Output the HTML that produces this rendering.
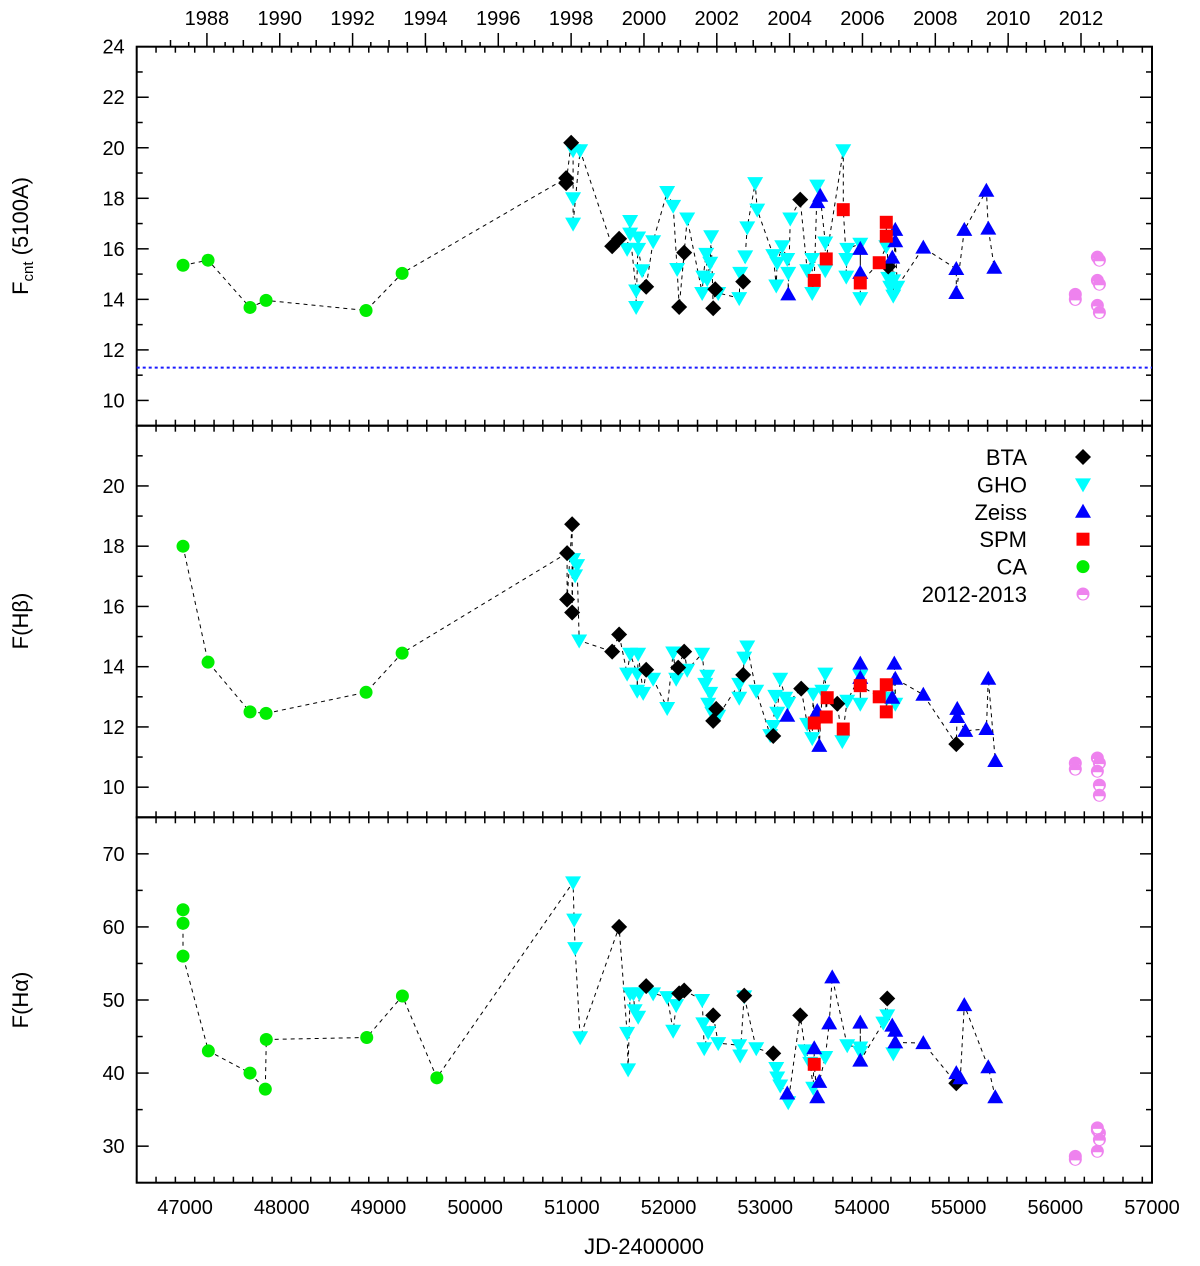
<!DOCTYPE html>
<html><head><meta charset="utf-8"><style>
html,body{margin:0;padding:0;background:#fff;}
svg{display:block;font-family:"Liberation Sans",Arial,sans-serif;}
</style></head><body>
<svg id="chart" width="1200" height="1266" viewBox="0 0 1200 1266" xmlns="http://www.w3.org/2000/svg">
<g id="axes"></g>
<g id="lines"></g>
<g id="marks"></g>
<g id="legend"></g>
</svg>
<script>
// ---- X axis ticks / labels ----
const xTicks = [47000,48000,49000,50000,51000,52000,53000,54000,55000,56000,57000];
const yearTicks = [1988,1990,1992,1994,1996,1998,2000,2002,2004,2006,2008,2010,2012];
const p1Ticks = [10,12,14,16,18,20,22,24];
const p2Ticks = [10,12,14,16,18,20];
const p3Ticks = [30,40,50,60,70];
const hostLevel = [11.3];

// ---- Panel 1: continuum ----
const p1CA_jd = [46979,47238,47672,47838,48872,49245];
const p1CA_v = [15.35,15.55,13.68,13.96,13.56,15.03];
const p1BTA_jd = [50941,50941,50993,51417,51489,51769,52110,52162,52462,52483,52772,53362,54272];
const p1BTA_v = [18.8,18.6,20.2,16.1,16.4,14.5,13.7,15.85,13.65,14.4,14.7,17.95,15.3];
const p1GHO_jd = [51013,51086,51013,51013,51603,51603,51686,51572,51686,51841,51727,51665,51665,51986,52048,52193,52089,52441,52390,52431,52359,52400,52348,52514,52896,52917,52814,52793,52741,52731,53083,53176,53124,53238,53114,53259,53228,53538,53621,53486,53434,53621,53486,53807,53848,53838,53838,53983,53983,54252,54272,54324,54324,54366,54293];
const p1GHO_v = [19.9,19.9,18.0,17.0,17.1,16.6,16.45,16.0,16.0,16.3,15.15,14.35,13.7,18.25,17.7,17.2,15.2,16.5,15.8,15.45,14.9,14.8,14.25,14.25,18.6,17.55,16.85,15.7,15.05,14.05,15.75,16.1,15.45,15.05,14.55,17.2,15.6,18.5,16.25,15.6,15.15,15.15,14.25,19.9,16.0,15.6,14.9,16.2,14.05,16.1,14.85,14.75,14.15,14.5,14.5];
const p1Zeiss_jd = [53569,53538,53238,53983,53983,54345,54345,54314,54635,54976,54976,55059,55287,55307,55369];
const p1Zeiss_v = [18.1,17.85,14.2,16.0,15.05,16.75,16.3,15.65,16.05,15.2,14.25,16.75,18.3,16.8,15.25];
const p1SPM_jd = [53807,53631,53507,53983,54179,54252,54252];
const p1SPM_v = [17.55,15.6,14.75,14.65,15.45,17.05,16.5];
const p1New_jd = [56207,56207,56435,56456,56435,56456,56435,56456];
const p1New_v = [14.2,14.0,15.67,15.55,14.75,14.6,13.76,13.48];

// ---- Panel 2: Hbeta ----
const p2CA_jd = [46979,47238,47672,47838,48872,49245];
const p2CA_v = [18.0,14.15,12.5,12.45,13.15,14.45];
const p2BTA_jd = [50951,50951,51003,51003,51417,51489,51769,52100,52162,52462,52493,52772,53083,53372,53745,54976];
const p2BTA_v = [17.77,16.23,18.73,15.8,14.5,15.07,13.9,13.97,14.5,12.2,12.6,13.73,11.7,13.27,12.77,11.43];
const p2GHO_jd = [51013,51055,51034,51076,51603,51686,51572,51676,51676,51738,51841,51986,52048,52079,52193,52348,52400,52379,52431,52410,52452,52514,52814,52783,52731,52731,52907,53155,53104,53207,53124,53083,53052,53238,53621,53434,53486,53496,53590,53848,53797,53983,53983,54262,54345];
const p2GHO_v = [17.57,17.37,17.03,14.87,14.43,14.43,13.77,13.77,13.2,13.13,13.6,12.63,14.47,13.6,13.9,14.43,13.7,13.43,13.13,12.77,12.47,12.37,14.67,14.3,13.43,12.97,13.2,13.6,13.03,12.97,12.47,12.03,11.73,12.8,13.77,12.1,11.63,13.1,13.2,12.87,11.53,13.7,12.77,12.97,12.77];
const p2Zeiss_jd = [53228,53559,53538,53983,53983,54335,54345,54314,54635,54986,54986,55069,55307,55287,55379];
const p2Zeiss_v = [12.37,11.37,12.53,14.1,13.63,14.1,13.6,12.97,13.07,12.6,12.33,11.87,13.6,11.93,10.87];
const p2SPM_jd = [53641,53631,53507,53807,53983,54179,54252,54252];
const p2SPM_v = [12.97,12.33,12.13,11.93,13.37,13.0,13.4,12.5];
const p2New_jd = [56207,56207,56435,56456,56435,56456,56456];
const p2New_v = [10.8,10.6,10.97,10.8,10.53,10.07,9.73];

// ---- Panel 3: Halpha ----
const p3CA_jd = [46979,46979,46979,47241,47672,47830,47840,48879,49248,49604];
const p3CA_v = [62.35,60.5,56.0,43.03,40.0,37.8,44.6,44.87,50.55,39.35];
const p3BTA_jd = [51489,51769,52110,52162,52462,52783,53083,53362,54262,54976];
const p3BTA_v = [60.0,51.9,50.9,51.3,47.9,50.6,42.7,47.9,50.2,38.6];
const p3GHO_jd = [51013,51024,51034,51086,51572,51582,51603,51637,51650,51686,51700,51841,51986,52048,52079,52348,52359,52369,52410,52514,52731,52741,52783,52907,53114,53124,53155,53238,53414,53465,53496,53621,53848,53983,53983,54221,54262,54324];
const p3GHO_v = [66.1,61.0,57.1,44.9,45.5,40.5,50.9,50.9,48.6,47.7,50.9,50.9,50.4,45.8,49.3,50.0,46.8,43.4,45.6,44.1,43.8,42.4,50.5,43.4,40.7,39.4,38.3,36.0,43.1,41.4,38.0,42.2,43.8,43.5,42.9,46.9,47.9,42.7];
const p3Zeiss_jd = [53228,53507,53559,53538,53693,53662,53983,53983,54314,54345,54345,54635,54976,55017,55059,55307,55379];
const p3Zeiss_v = [37.2,43.4,38.8,36.7,53.1,46.8,46.9,41.7,46.5,45.8,44.2,44.1,40.0,39.3,49.3,40.8,36.7];
const p3SPM_jd = [53507];
const p3SPM_v = [41.2];
const p3New_jd = [56207,56207,56435,56456,56435,56456,56435];
const p3New_v = [28.6,28.2,32.2,31.8,32.5,30.9,29.3];

const NS = "http://www.w3.org/2000/svg";
const L = 136.7, R = 1152, XMIN = 46500, XMAX = 57000;
const X = v => L + (v - XMIN) * (R - L) / (XMAX - XMIN);
const panels = [
  {top:46.7, bot:425.7, min:9, max:24},
  {top:425.7, bot:817.3, min:9, max:22},
  {top:817.3, bot:1182.7, min:25, max:75}
];
const Yf = (p, v) => p.bot - (v - p.min) * (p.bot - p.top) / (p.max - p.min);
function mk(tag, attrs, parent){ const e=document.createElementNS(NS,tag); for(const k in attrs) e.setAttribute(k,attrs[k]); parent.appendChild(e); return e; }
const axes = document.getElementById('axes');
const lines = document.getElementById('lines');
const marks = document.getElementById('marks');
const legend = document.getElementById('legend');

// frames & y ticks
const yTickSets = [p1Ticks, p2Ticks, p3Ticks];
const yMinor = [1,1,5];
panels.forEach((p,i)=>{
  const fr = mk('rect',{x:L,y:p.top,width:R-L,height:p.bot-p.top,fill:'none',stroke:'#000','stroke-width':2},axes);
  
  
  for(let v=p.min; v<=p.max+0.001; v+=yMinor[i]){
    const y=Yf(p,v);
    const isMajor = yTickSets[i].indexOf(v)>=0;
    const len = isMajor?12:6;
    const t1 = mk('line',{x1:L,x2:L+len,y1:y,y2:y,stroke:'#000','stroke-width':1.5},axes);
    
    
    const t2 = mk('line',{x1:R,x2:R-len,y1:y,y2:y,stroke:'#000','stroke-width':1.5},axes);
    
    
  }
  yTickSets[i].forEach(v=>{
    const t = mk('text',{x:L-12,y:Yf(p,v)+7,'text-anchor':'end','font-size':20},axes);
    t.textContent = v;
    
    
  });
  // x ticks at top and bottom of panel
  for(let v=XMIN; v<=XMAX; v+=200){
    const x=X(v); const major = v%1000===0; const len = major?12:6;
    const a = mk('line',{x1:x,x2:x,y1:p.bot,y2:p.bot-len,stroke:'#000','stroke-width':1.5},axes);
    
    
    const b = mk('line',{x1:x,x2:x,y1:p.top,y2:p.top+len,stroke:'#000','stroke-width':1.5},axes);
    
    
  }
});
xTicks.forEach(v=>{
  const t = mk('text',{x:X(v),y:1214,'text-anchor':'middle','font-size':20},axes);
  t.textContent = v;
  
  
});
// top year axis
const yrX = y => 1081 - (2012 - y) * 36.42;
for(let y=1987; y<=2013.01; y+=0.5){
  const x = yrX(y); if(x<L||x>R) continue;
  const major = Math.abs(y/2-Math.round(y/2))<1e-6;
  const half = Math.abs(y-Math.round(y))<1e-6;
  const t = mk('line',{x1:x,x2:x,y1:major?33:(half?40:42),y2:46.7,stroke:'#000','stroke-width':1.5},axes);
  
  
}
yearTicks.forEach(y=>{
  const t = mk('text',{x:yrX(y),y:25,'text-anchor':'middle','font-size':20},axes);
  t.textContent = y;
  
  
});
// axis titles
function ytitle(txt, cy, name, sub){
  const t = mk('text',{x:0,y:0,'text-anchor':'middle','font-size':22,transform:`translate(28,${cy}) rotate(-90)`},axes);
  
  
  if(sub){
    const a=mk('tspan',{},t); a.textContent='F';
    const b=mk('tspan',{'font-size':15,dy:5},t); b.textContent='cnt';
    const c=mk('tspan',{dy:-5},t); c.textContent=' (5100A)';
  } else t.textContent = txt;
}
ytitle('', 236, 'y-axis-title-continuum', true);
ytitle('F(Hβ)', 621, 'y-axis-title-hbeta');
ytitle('F(Hα)', 1000, 'y-axis-title-halpha');
const xt = mk('text',{x:644,y:1254,'text-anchor':'middle','font-size':22},axes);
xt.textContent='JD-2400000';


// host galaxy level line
const hl = mk('line',{x1:L,x2:R,y1:Yf(panels[0],hostLevel[0]),y2:Yf(panels[0],hostLevel[0]),stroke:'#1a1aff','stroke-width':2,'stroke-dasharray':'3,3'},axes);



// markers
const COL = {BTA:'#000', GHO:'#00ffff', Zeiss:'#0000ff', SPM:'#ff0000', CA:'#00ee00', New:'#ee82ee'};
function marker(type, cx, cy, parent){
  let e;
  if(type==='BTA') e = mk('polygon',{points:`${cx},${cy-8} ${cx+8},${cy} ${cx},${cy+8} ${cx-8},${cy}`,fill:COL.BTA},parent);
  else if(type==='GHO') e = mk('polygon',{points:`${cx-8},${cy-6} ${cx+8},${cy-6} ${cx},${cy+8}`,fill:COL.GHO},parent);
  else if(type==='Zeiss') e = mk('polygon',{points:`${cx-8},${cy+6} ${cx+8},${cy+6} ${cx},${cy-8}`,fill:COL.Zeiss},parent);
  else if(type==='SPM') e = mk('rect',{x:cx-6.5,y:cy-6.5,width:13,height:13,fill:COL.SPM},parent);
  else if(type==='CA') e = mk('circle',{cx:cx,cy:cy,r:6.5,fill:COL.CA},parent);
  else {
    e = mk('g',{},parent);
    mk('circle',{cx:cx,cy:cy,r:6.5,fill:COL.New},e);
    mk('path',{d:`M${cx-4.5},${cy+1} A4.5,4.5 0 0 0 ${cx+4.5},${cy+1} Z`,fill:'#fff'},e);
  }
  return e;
}
const sets = [
  {CA:[p1CA_jd,p1CA_v],BTA:[p1BTA_jd,p1BTA_v],GHO:[p1GHO_jd,p1GHO_v],Zeiss:[p1Zeiss_jd,p1Zeiss_v],SPM:[p1SPM_jd,p1SPM_v],New:[p1New_jd,p1New_v]},
  {CA:[p2CA_jd,p2CA_v],BTA:[p2BTA_jd,p2BTA_v],GHO:[p2GHO_jd,p2GHO_v],Zeiss:[p2Zeiss_jd,p2Zeiss_v],SPM:[p2SPM_jd,p2SPM_v],New:[p2New_jd,p2New_v]},
  {CA:[p3CA_jd,p3CA_v],BTA:[p3BTA_jd,p3BTA_v],GHO:[p3GHO_jd,p3GHO_v],Zeiss:[p3Zeiss_jd,p3Zeiss_v],SPM:[p3SPM_jd,p3SPM_v],New:[p3New_jd,p3New_v]}
];
const order = ['CA','GHO','BTA','Zeiss','SPM','New'];
sets.forEach((s,i)=>{
  const p = panels[i];
  // connecting line over all points except 2012-2013
  let all=[]; let idx=0;
  ['CA','BTA','GHO','Zeiss','SPM'].forEach(k=>{ s[k][0].forEach((jd,j)=>all.push([jd,s[k][1][j],idx++])); });
  all.sort((a,b)=>a[0]-b[0]||a[2]-b[2]);
  const pl = mk('polyline',{points:all.map(a=>X(a[0]).toFixed(1)+','+Yf(p,a[1]).toFixed(1)).join(' '),fill:'none',stroke:'#000','stroke-width':1,'stroke-dasharray':'4,4'},lines);
  
  
  order.forEach(k=>{
    s[k][0].forEach((jd,j)=>{
      const m = marker(k, X(jd), Yf(p, s[k][1][j]), marks);
      
      
    });
  });
});
// legend
const legNames = ['BTA','GHO','Zeiss','SPM','CA','2012-2013'];
const legKeys = ['BTA','GHO','Zeiss','SPM','CA','New'];
legNames.forEach((n,i)=>{
  const y = 457 + i*27.4;
  const t = mk('text',{x:1027,y:y+8,'text-anchor':'end','font-size':22},legend);
  t.textContent = n;
  
  
  const m = marker(legKeys[i], 1083, y, legend);
  
  
});
</script>
</body></html>
